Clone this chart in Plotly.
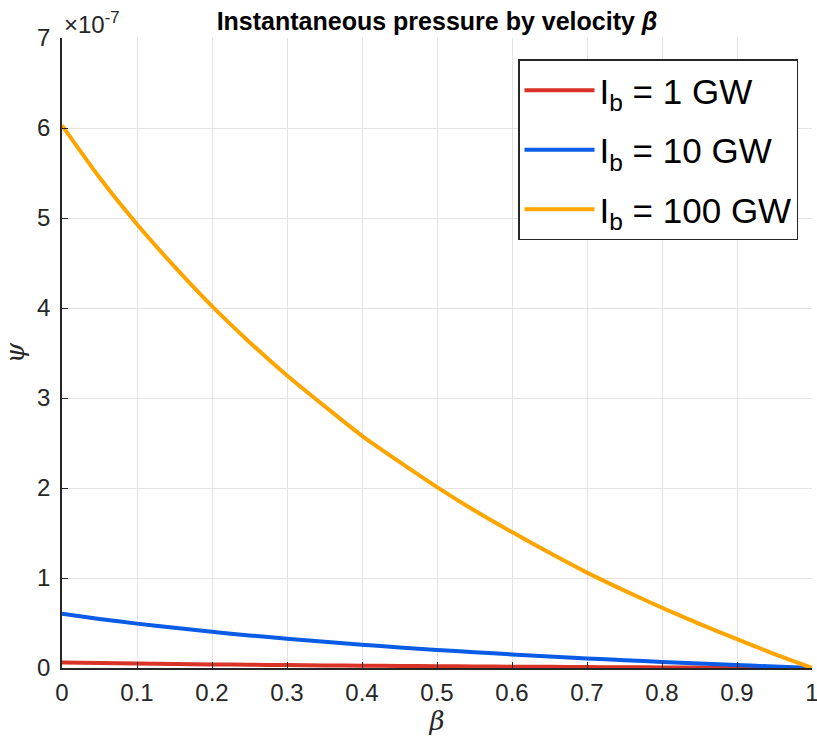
import plotly.graph_objects as go

# beta values
beta = [0.0, 0.05, 0.1, 0.15, 0.2, 0.25, 0.3, 0.35, 0.4, 0.45, 0.5,
        0.55, 0.6, 0.65, 0.7, 0.75, 0.8, 0.85, 0.9, 0.95, 1.0]
# psi in units of 1e-7
psi_100GW = [6.03, 5.45, 4.93, 4.46, 4.02, 3.62, 3.25, 2.91, 2.58, 2.29, 2.01,
             1.75, 1.51, 1.28, 1.06, 0.86, 0.67, 0.49, 0.32, 0.155, 0.0]
psi_10GW = [0.603, 0.545, 0.493, 0.446, 0.402, 0.362, 0.325, 0.291, 0.258, 0.229, 0.201,
            0.175, 0.151, 0.128, 0.106, 0.086, 0.067, 0.049, 0.032, 0.0155, 0.0]
psi_1GW = [0.0603, 0.0545, 0.0493, 0.0446, 0.0402, 0.0362, 0.0325, 0.0291, 0.0258, 0.0229, 0.0201,
           0.0175, 0.0151, 0.0128, 0.0106, 0.0086, 0.0067, 0.0049, 0.0032, 0.00155, 0.0]

series = [
    ("I<sub>b</sub> = 1 GW", psi_1GW, "#d93226"),
    ("I<sub>b</sub> = 10 GW", psi_10GW, "#0a5ce6"),
    ("I<sub>b</sub> = 100 GW", psi_100GW, "#ffa500"),
]
x_ticks = [0, 0.1, 0.2, 0.3, 0.4, 0.5, 0.6, 0.7, 0.8, 0.9, 1]
x_ticktext = ["0", "0.1", "0.2", "0.3", "0.4", "0.5", "0.6", "0.7", "0.8", "0.9", "1"]
y_ticks = [0, 1, 2, 3, 4, 5, 6, 7]

fig = go.Figure()
for i, (name, vals, col) in enumerate(series):
    fig.add_trace(go.Scatter(x=beta, y=vals, mode="lines", name=name, legendgroup=f"g{i}",
                             line=dict(color=col, width=4, shape="spline", smoothing=0.6)))

font_family = "Liberation Sans, Arial, sans-serif"
fig.update_layout(
    width=817, height=740,
    margin=dict(l=62, r=5, t=38, b=72, autoexpand=False),
    paper_bgcolor="white", plot_bgcolor="white",
    font=dict(family=font_family, color="#262626", size=24),
    showlegend=True,
    legend=dict(x=0.608, y=0.966, xanchor="left", yanchor="top",
                bgcolor="white", bordercolor="#262626", borderwidth=1.5,
                font=dict(size=35, color="black", family=font_family),
                itemwidth=70, tracegroupgap=11),
    title=dict(text="<b>Instantaneous pressure by velocity </b><b><i>β</i></b>",
               xref="paper", x=0.5, xanchor="center",
               yref="container", y=0.971, yanchor="middle",
               font=dict(size=25, color="black", family=font_family)),
    xaxis=dict(range=[0, 1], tickvals=x_ticks, ticktext=x_ticktext,
               automargin=False,
               showgrid=True, gridcolor="#e3e3e3", gridwidth=1,
               showline=True, linecolor="#262626", linewidth=1.5,
               ticks="inside", ticklen=6, tickcolor="#262626",
               zeroline=False, tickfont=dict(size=24), ticklabelstandoff=2,
               ticklabeloverflow="allow",
               title=dict(text="<i>β</i>", font=dict(size=26, family="DejaVu Serif, serif"), standoff=6)),
    yaxis=dict(range=[0, 7], tickvals=y_ticks,
               automargin=False,
               showgrid=True, gridcolor="#e3e3e3", gridwidth=1,
               showline=True, linecolor="#262626", linewidth=1.5,
               ticks="inside", ticklen=6, tickcolor="#262626",
               zeroline=False, tickfont=dict(size=24), ticklabelstandoff=5,
               ticklabeloverflow="allow",
               title=dict(text="<i>ψ</i>", font=dict(size=26, family="DejaVu Serif, serif"), standoff=10)),
)
fig.add_annotation(text="×10<sup>-7</sup>", xref="paper", yref="paper",
                   x=0.0, y=1.0, xanchor="left", yanchor="bottom", showarrow=False,
                   font=dict(size=24, color="#262626", family=font_family), yshift=-2)

fig.write_html("out.html")
